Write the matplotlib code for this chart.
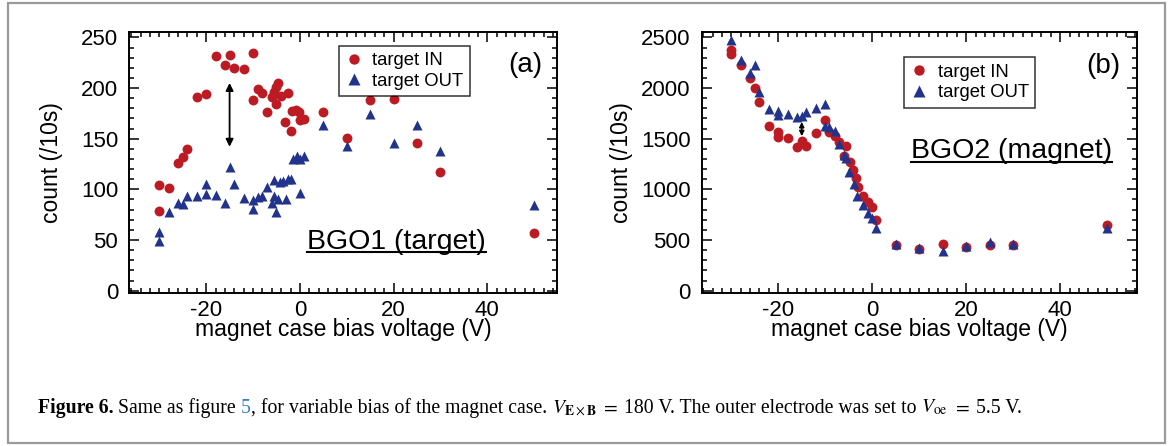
import matplotlib
matplotlib.use("Agg")
import matplotlib.pyplot as plt
from matplotlib.ticker import MultipleLocator
from matplotlib.lines import Line2D
from matplotlib.patches import Rectangle

plt.rcParams['font.family'] = ['Liberation Sans', 'DejaVu Sans']
plt.rcParams['mathtext.fontset'] = 'stix'
plt.rcParams['axes.unicode_minus'] = False

W, H = 1168, 446

# ---- panel (a): BGO1 (target) ----
a_in_x = [-30, -30, -28, -26, -25, -24, -22, -20, -18, -16, -15, -14, -12, -10, -10,
          -9, -8, -7, -6, -5.5, -5, -4.6, -5, -4, -3.2, -2.6, -2, -1.6, -0.8, -0.1,
          0, 0.9, 5, 10, 15, 20, 25, 30, 50]
a_in_y = [104, 79, 101, 126, 132, 140, 191, 194, 232, 223, 233, 220, 219, 235, 188,
          199, 195, 176, 191, 196, 201, 205, 184, 192, 166, 195, 158, 177, 178, 176,
          168, 169, 176, 151, 188, 189, 146, 117, 57]
a_out_x = [-30, -30, -28, -26, -25, -24, -22, -20, -20, -18, -16, -15, -14, -12, -10,
           -10, -9, -8, -7, -6, -5.6, -5, -5.5, -4.6, -4.2, -3.6, -3, -2.6, -2, -1.5,
           -0.7, 0, 0.9, 0, 5, 10, 15, 20, 25, 30, 50]
a_out_y = [58, 49, 78, 87, 86, 93, 93, 105, 95, 94, 87, 122, 105, 91, 89,
           81, 92, 93, 102, 87, 93, 78, 109, 90, 107, 108, 90, 110, 110, 130,
           133, 130, 133, 96, 164, 143, 174, 146, 164, 138, 85]
a_arrow = (-15, 142, 205)

# ---- panel (b): BGO2 (magnet) ----
b_in_x = [-30, -30, -28, -26, -25, -24, -22, -20, -20, -18, -16, -15, -14, -12, -10,
          -9.2, -8, -7, -5.5, -6, -4.8, -4, -3.5, -3, -1.9, -1, 0, 0.9,
          5, 10, 15, 20, 25, 30, 50]
b_in_y = [2375, 2335, 2227, 2095, 1996, 1865, 1628, 1562, 1513, 1503, 1421, 1477, 1431, 1559, 1684,
          1569, 1529, 1464, 1431, 1329, 1273, 1191, 1108, 1020, 937, 880, 829, 697,
          451, 408, 458, 428, 451, 451, 648]
b_out_x = [-30, -28, -26, -25, -24, -22, -20, -20, -18, -16, -15, -14, -12, -10, -10,
           -9.2, -8, -7, -6, -5.5, -5, -3.9, -3.2, -1.9, -0.9, -0.1, 0.9,
           5, 10, 15, 20, 25, 30, 50]
b_out_y = [2473, 2276, 2151, 2227, 1964, 1793, 1773, 1733, 1740, 1717, 1723, 1760, 1806, 1839, 1628,
           1618, 1575, 1447, 1339, 1306, 1174, 1052, 937, 845, 763, 714, 622,
           458, 425, 395, 441, 477, 458, 615]
b_arrow = (-15, 1525, 1665)

RED = '#BD1B24'
BLUE = '#22338C'

fig = plt.figure(figsize=(W / 100, H / 100), dpi=100)
fig.patch.set_facecolor('white')

ax_a = fig.add_axes([129.3 / W, 1 - 293.3 / H, 427.4 / W, 261.6 / H])
ax_b = fig.add_axes([701.7 / W, 1 - 293.3 / H, 435.0 / W, 261.6 / H])


def style(ax, xlim, ylim, ymaj, ymin, ypad):
    ax.set_xlim(*xlim)
    ax.set_ylim(*ylim)
    ax.xaxis.set_major_locator(MultipleLocator(20))
    ax.xaxis.set_minor_locator(MultipleLocator(2))
    ax.yaxis.set_major_locator(MultipleLocator(ymaj))
    ax.yaxis.set_minor_locator(MultipleLocator(ymin))
    ax.tick_params(which='both', direction='in', top=True, right=True,
                   width=1.1, labelsize=16, colors='black')
    ax.tick_params(which='major', length=7)
    ax.tick_params(which='minor', length=3.8)
    ax.tick_params(axis='y', pad=8)
    ax.tick_params(axis='x', pad=4.5)
    for s in ax.spines.values():
        s.set_linewidth(1.4)
    ax.set_xlabel('magnet case bias voltage (V)', fontsize=16.5, labelpad=-1.5)
    ax.set_ylabel('count (/10s)', fontsize=16.5, labelpad=ypad)


style(ax_a, (-36.4, 54.8), (-2.6, 255.6), 50, 10, 13)
style(ax_b, (-36.3, 56.3), (-26, 2556), 500, 100, 6)

for ax, ix, iy, ox, oy in [(ax_a, a_in_x, a_in_y, a_out_x, a_out_y),
                           (ax_b, b_in_x, b_in_y, b_out_x, b_out_y)]:
    ax.plot(ix, iy, 'o', color=RED, ms=7.1, mec='none', label='target IN', zorder=3)
    ax.plot(ox, oy, '^', color=BLUE, ms=7.7, mec='none', label='target OUT', zorder=4)

ax_a.annotate('', xy=(a_arrow[0], a_arrow[2]), xytext=(a_arrow[0], a_arrow[1]),
              arrowprops=dict(arrowstyle='<|-|>', color='black', lw=1.3,
                              mutation_scale=11, shrinkA=0, shrinkB=0), zorder=5)
ax_b.annotate('', xy=(b_arrow[0], b_arrow[2]), xytext=(b_arrow[0], b_arrow[1]),
              arrowprops=dict(arrowstyle='<|-|>', color='black', lw=1.2,
                              mutation_scale=7, shrinkA=0, shrinkB=0), zorder=5)

for ax, anchor in [(ax_a, (0.4906, 0.9465)), (ax_b, (0.4657, 0.902))]:
    leg = ax.legend(loc='upper left', bbox_to_anchor=anchor, borderaxespad=0,
                    fontsize=13.3, frameon=True, fancybox=False, handlelength=0.9,
                    handletextpad=0.55, borderpad=0.35, labelspacing=0.2,
                    markerscale=1.05)
    leg.get_frame().set_edgecolor('black')
    leg.get_frame().set_linewidth(1.1)

ax_a.text(0.926, 0.873, '(a)', transform=ax_a.transAxes, fontsize=20,
          ha='center', va='center')
ax_b.text(0.9225, 0.869, '(b)', transform=ax_b.transAxes, fontsize=20,
          ha='center', va='center')

t_a = ax_a.text(0.626, 0.169, 'BGO1 (target)', transform=ax_a.transAxes,
                fontsize=20.5, ha='center', va='baseline')
t_b = ax_b.text(0.713, 0.518, 'BGO2 (magnet)', transform=ax_b.transAxes,
                fontsize=20.5, ha='center', va='baseline')

fig.canvas.draw()
renderer = fig.canvas.get_renderer()

# underline the detector labels
for ax, t, gap in [(ax_a, t_a, 3), (ax_b, t_b, 4)]:
    bb = t.get_window_extent(renderer)
    base = ax.transAxes.transform(t.get_position())[1]
    yl = (base - gap) / H
    fig.add_artist(Line2D([bb.x0 / W, bb.x1 / W], [yl, yl], transform=fig.transFigure,
                          color='black', lw=1.5))

# caption, built from pieces on one baseline
cap_font = ['Liberation Serif', 'DejaVu Serif']
cap_size = 14.2
pieces = [
    ('Figure 6.', dict(weight='bold'), False),
    ('Same as figure', {}, True),
    ('5', dict(color='#3B7CC4'), True),
    (', for variable bias of the magnet case.', {}, False),
    (r'$V_{\mathbf{E}\times\mathbf{B}}$', {}, True),
    (r'$=$', {}, True),
    ('180 V. The outer electrode was set to', {}, True),
    (r'$V_{\mathrm{oe}}$', {}, True),
    (r'$=$', {}, True),
    ('5.5 V.', {}, True),
]
probe1 = fig.text(0, 0, 'x x', family=cap_font, fontsize=cap_size)
probe2 = fig.text(0, 0, 'xx', family=cap_font, fontsize=cap_size)
space = (probe1.get_window_extent(renderer).width -
         probe2.get_window_extent(renderer).width)
probe1.remove()
probe2.remove()

x = 37.5
y_base = (H - 412.7) / H
for s, props, sp in pieces:
    if sp:
        x += space
    t = fig.text(x / W, y_base, s, family=cap_font, fontsize=cap_size,
                 va='baseline', ha='left', **props)
    x += t.get_window_extent(renderer).width

# light frame around the figure
fig.add_artist(Rectangle((8 / W, 1 - 443 / H), 1157 / W, 440 / H, transform=fig.transFigure,
                         fill=False, edgecolor='#9A9A9A', lw=1.6))

fig.savefig('out.png', dpi=100)
